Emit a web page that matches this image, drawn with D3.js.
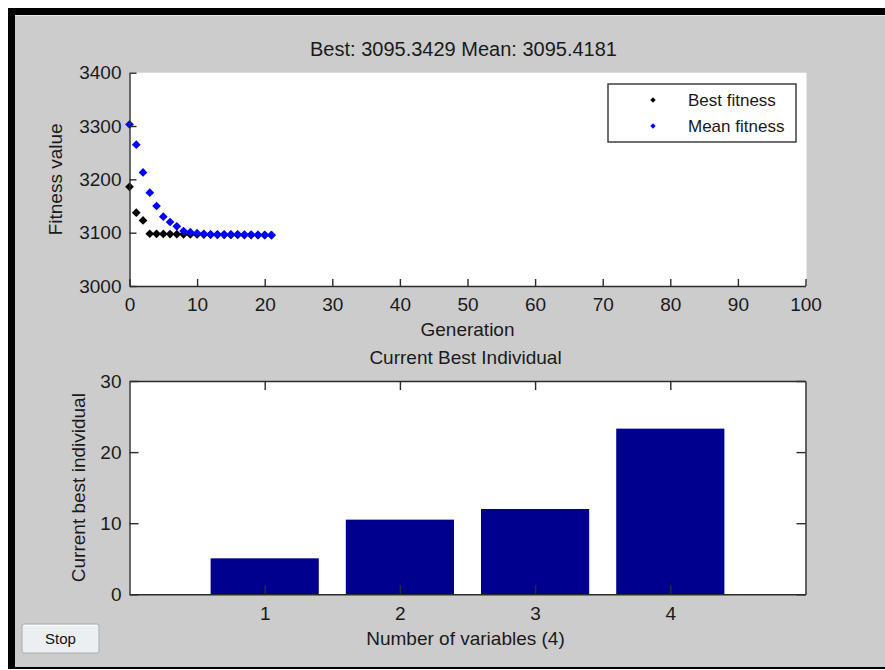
<!DOCTYPE html>
<html>
<head>
<meta charset="utf-8">
<script src="https://cdn.jsdelivr.net/npm/d3@7"></script>
<style>
html, body { margin:0; padding:0; background:#ffffff; }
svg { display:block; font-family:"Liberation Sans", Arial, sans-serif; }
</style>
</head>
<body>
<div id="chart"></div>
<script>
//fitness by generation
var generations = [0, 1, 2, 3, 4, 5, 6, 7, 8, 9, 10, 11, 12, 13, 14, 15, 16, 17, 18, 19, 20, 21];
var bestFitness = [3186, 3137.5, 3123, 3098, 3097.8, 3097.6, 3097.4, 3097.2, 3097, 3096.8, 3096.6,
                   3096.4, 3096.2, 3096, 3095.9, 3095.8, 3095.7, 3095.6, 3095.5, 3095.4, 3095.36, 3095.34];
var meanFitness = [3303, 3265, 3213, 3175, 3150, 3130, 3120, 3112, 3103, 3101, 3099,
                   3098, 3097, 3097, 3097, 3097, 3097, 3096.5, 3096.5, 3096, 3096, 3095.42];
var genTicks = [0, 10, 20, 30, 40, 50, 60, 70, 80, 90, 100];
var fitTicks = [3000, 3100, 3200, 3300, 3400];

//current best individual
var variables = [1, 2, 3, 4];
var individual = [5.06, 10.5, 12.0, 23.3];
var indTicks = [0, 10, 20, 30];

var title = "Best: 3095.3429 Mean: 3095.4181";

var W = 885, H = 670;
var axisCol = "#2b2b2b", textCol = "#1a1a1a";
var fmt = d3.format("d");

var svg = d3.select("#chart").append("svg").attr("width", W).attr("height", H);

//window frame
svg.append("rect").attr("x", 8).attr("y", 8).attr("width", W - 8).attr("height", 661).attr("fill", "#000000");
svg.append("rect").attr("x", 15).attr("y", 15).attr("width", W - 15).attr("height", 652).attr("fill", "#cccccc");
svg.append("line").attr("x1", 15).attr("x2", W).attr("y1", 15.5).attr("y2", 15.5)
   .attr("stroke", "#e6e6e6").attr("stroke-width", 1);

function styleAxis(g, fs){
	g.attr("font-size", fs).attr("font-family", null);
	g.selectAll("path.domain").attr("stroke", axisCol).attr("stroke-width", 1.4);
	g.selectAll(".tick line").attr("stroke", axisCol).attr("stroke-width", 1.4);
	g.selectAll(".tick text").attr("fill", textCol);
}

function diamond(size){
	return d3.symbol().type(d3.symbolSquare).size(size);
}

/* ---------- top: fitness plot ---------- */
var x1 = d3.scaleLinear().domain([0, 100]).range([129.5, 805.5]);
var y1 = d3.scaleLinear().domain([3000, 3400]).range([286, 72.7]);

var p1 = svg.append("g");
p1.append("rect").attr("x", x1(0)).attr("y", y1(3400))
  .attr("width", x1(100) - x1(0) + 1).attr("height", y1(3000) - y1(3400))
  .attr("fill", "#ffffff");

p1.append("text").attr("x", (x1(0) + x1(100)) / 2 - 4).attr("y", 56)
  .attr("text-anchor", "middle").attr("font-size", 20).attr("fill", textCol).text(title);

var best = p1.append("g").selectAll("path").data(generations).enter().append("path")
	.attr("d", diamond(38))
	.attr("transform", function(d, i){ return "translate(" + x1(d) + "," + y1(bestFitness[i]) + ") rotate(45)"; })
	.attr("fill", "#000000");

var mean = p1.append("g").selectAll("path").data(generations).enter().append("path")
	.attr("d", diamond(38))
	.attr("transform", function(d, i){ return "translate(" + x1(d) + "," + y1(meanFitness[i]) + ") rotate(45)"; })
	.attr("fill", "#0000ff");

var gx1 = p1.append("g").attr("transform", "translate(0," + y1(3000) + ")")
	.call(d3.axisBottom(x1).tickValues(genTicks).tickFormat(fmt).tickSizeInner(-7).tickSizeOuter(0).tickPadding(12));
styleAxis(gx1, 19);
var gy1 = p1.append("g").attr("transform", "translate(" + x1(0) + ",0)")
	.call(d3.axisLeft(y1).tickValues(fitTicks).tickFormat(fmt).tickSizeInner(-7).tickSizeOuter(0).tickPadding(8));
styleAxis(gy1, 19);

p1.append("text").attr("x", (x1(0) + x1(100)) / 2).attr("y", 336)
  .attr("text-anchor", "middle").attr("font-size", 19).attr("fill", textCol).text("Generation");
p1.append("text").attr("transform", "translate(62," + ((y1(3000) + y1(3400)) / 2) + ") rotate(-90)")
  .attr("text-anchor", "middle").attr("font-size", 19).attr("fill", textCol).text("Fitness value");

//legend
var lg = p1.append("g").attr("transform", "translate(608,84)");
lg.append("rect").attr("x", 0).attr("y", 0).attr("width", 188).attr("height", 58)
  .attr("fill", "#ffffff").attr("stroke", "#333333").attr("stroke-width", 1.4);
var items = lg.selectAll("g.item").data([{label:"Best fitness", col:"#000000"}, {label:"Mean fitness", col:"#0000ff"}])
	.enter().append("g").classed("item", true)
	.attr("transform", function(d, i){ return "translate(0," + (16 + i * 26) + ")"; });
items.append("path").attr("d", diamond(14)).attr("transform", "translate(45,0) rotate(45)")
	.attr("fill", function(d){ return d.col; });
items.append("text").attr("x", 80).attr("y", 6).attr("font-size", 17).attr("fill", textCol)
	.text(function(d){ return d.label; });

/* ---------- bottom: current best individual ---------- */
var x2 = d3.scaleLinear().domain([0, 5]).range([129.5, 805.5]);
var y2 = d3.scaleLinear().domain([0, 30]).range([594.3, 381]);

var p2 = svg.append("g");
p2.append("text").attr("x", (x2(0) + x2(5)) / 2 - 2).attr("y", 364)
  .attr("text-anchor", "middle").attr("font-size", 19).attr("fill", textCol).text("Current Best Individual");

p2.append("rect").attr("x", x2(0)).attr("y", y2(30))
  .attr("width", x2(5) - x2(0)).attr("height", y2(0) - y2(30))
  .attr("fill", "#ffffff");

p2.append("g").selectAll("rect").data(variables).enter().append("rect")
	.attr("x", function(d){ return x2(d - 0.4); })
	.attr("width", x2(0.8) - x2(0))
	.attr("y", function(d, i){ return y2(individual[i]); })
	.attr("height", function(d, i){ return y2(0) - y2(individual[i]); })
	.attr("fill", "#00008f");

var gx2 = p2.append("g").attr("transform", "translate(0," + y2(0) + ")")
	.call(d3.axisBottom(x2).tickValues(variables).tickFormat(fmt).tickSizeInner(-9).tickSizeOuter(0).tickPadding(12));
styleAxis(gx2, 19);
var gx2t = p2.append("g").attr("transform", "translate(0," + y2(30) + ")")
	.call(d3.axisTop(x2).tickValues(variables).tickSizeInner(-9).tickSizeOuter(0).tickFormat(""));
styleAxis(gx2t, 19);
var gy2 = p2.append("g").attr("transform", "translate(" + x2(0) + ",0)")
	.call(d3.axisLeft(y2).tickValues(indTicks).tickFormat(fmt).tickSizeInner(-9).tickSizeOuter(0).tickPadding(8));
styleAxis(gy2, 19);
var gy2r = p2.append("g").attr("transform", "translate(" + x2(5) + ",0)")
	.call(d3.axisRight(y2).tickValues(indTicks).tickSizeInner(-9).tickSizeOuter(0).tickFormat(""));
styleAxis(gy2r, 19);

p2.append("text").attr("x", (x2(0) + x2(5)) / 2 - 2).attr("y", 645)
  .attr("text-anchor", "middle").attr("font-size", 19).attr("fill", textCol).text("Number of variables (4)");
p2.append("text").attr("transform", "translate(85," + ((y2(0) + y2(30)) / 2) + ") rotate(-90)")
  .attr("text-anchor", "middle").attr("font-size", 19).attr("fill", textCol).text("Current best individual");

//stop button
var btn = svg.append("g").attr("transform", "translate(22,624)");
btn.append("rect").attr("width", 77).attr("height", 29).attr("rx", 2)
   .attr("fill", "#eceff1").attr("stroke", "#a8adb2").attr("stroke-width", 1);
btn.append("line").attr("x1", 2).attr("x2", 75).attr("y1", 1.5).attr("y2", 1.5)
   .attr("stroke", "#ffffff").attr("stroke-width", 1);
btn.append("text").attr("x", 38.5).attr("y", 20).attr("text-anchor", "middle")
   .attr("font-size", 15).attr("fill", "#111111").text("Stop");
</script>
</body>
</html>
